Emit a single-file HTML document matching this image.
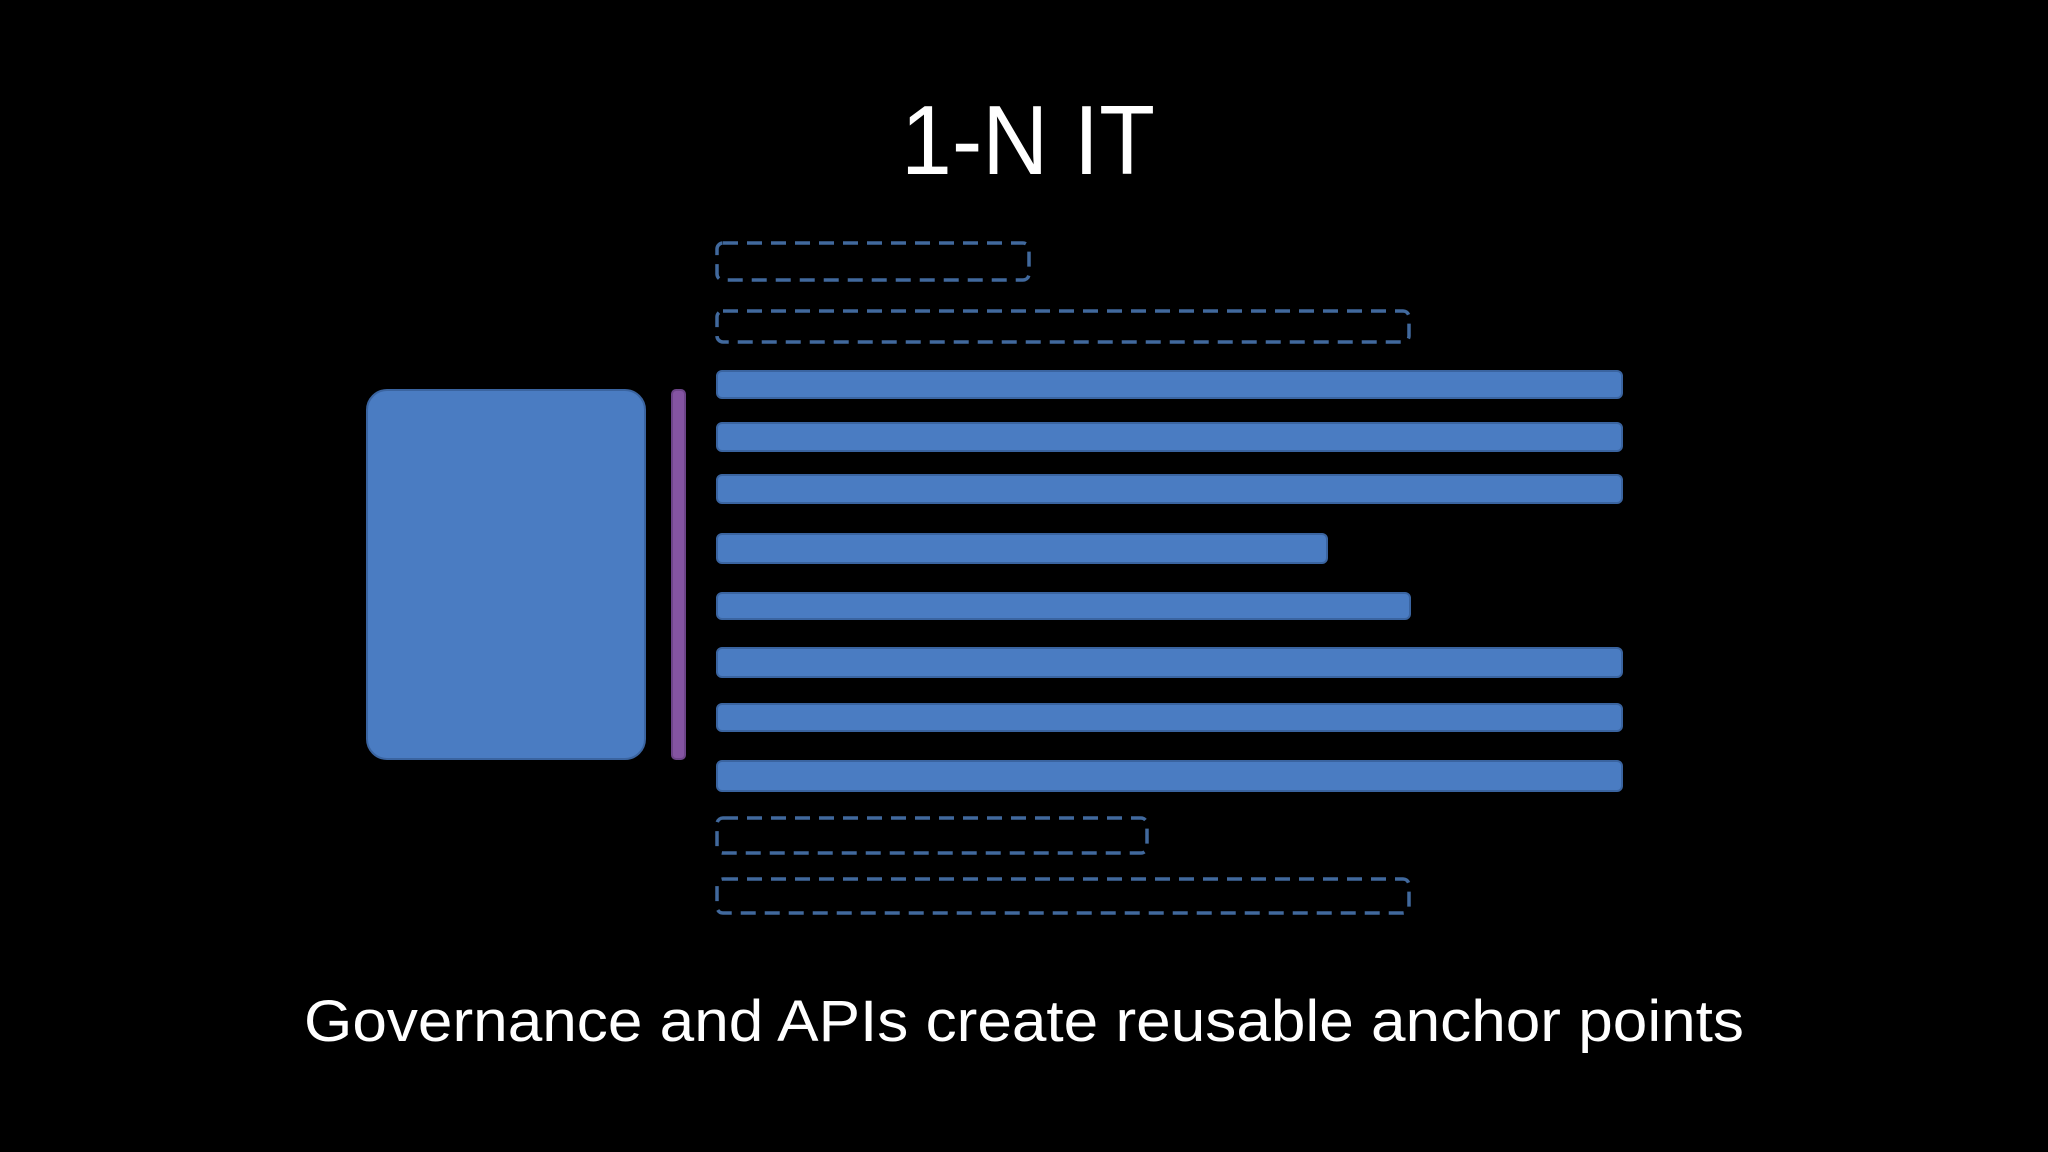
<!DOCTYPE html>
<html><head><meta charset="utf-8"><style>
html,body{margin:0;padding:0;background:#000;}
svg{display:block}
</style></head><body>
<svg width="2048" height="1152" viewBox="0 0 2048 1152" xmlns="http://www.w3.org/2000/svg">
<rect width="2048" height="1152" fill="#000"/>
<text x="1028" y="174" font-family="Liberation Sans, sans-serif" font-size="98" fill="#fff" text-anchor="middle" textLength="254" lengthAdjust="spacingAndGlyphs">1-N IT</text>
<g fill="none" stroke="#41699d" stroke-width="3.5" stroke-dasharray="15 9">
<rect x="717" y="243" width="312" height="37" rx="6"/>
<rect x="717" y="311" width="692" height="31" rx="6"/>
<rect x="717" y="818" width="430" height="35" rx="6"/>
<rect x="717" y="879" width="692" height="34" rx="6"/>
</g>
<g fill="#4a7cc2" stroke="#3a64a0" stroke-width="2">
<rect x="367" y="390" width="278" height="369" rx="20"/>
<rect x="672" y="390" width="13" height="369" rx="4" fill="#8454a2" stroke="#6c4488"/>
<rect x="717" y="371" width="905" height="27" rx="5"/>
<rect x="717" y="423" width="905" height="28" rx="5"/>
<rect x="717" y="475" width="905" height="28" rx="5"/>
<rect x="717" y="534" width="610" height="29" rx="5"/>
<rect x="717" y="593" width="693" height="26" rx="5"/>
<rect x="717" y="648" width="905" height="29" rx="5"/>
<rect x="717" y="704" width="905" height="27" rx="5"/>
<rect x="717" y="761" width="905" height="30" rx="5"/>
</g>
<text x="1024" y="1041" font-family="Liberation Sans, sans-serif" font-size="58" fill="#fff" text-anchor="middle" textLength="1440" lengthAdjust="spacingAndGlyphs">Governance and APIs create reusable anchor points</text>
</svg>
</body></html>
